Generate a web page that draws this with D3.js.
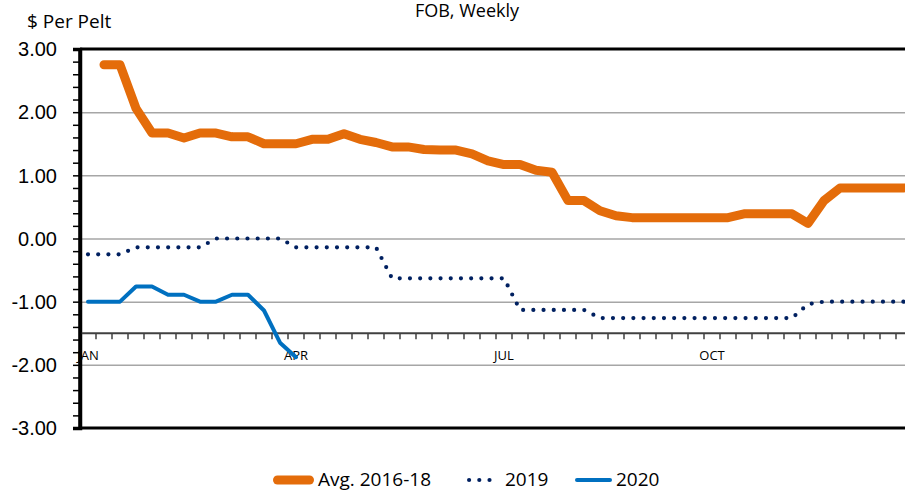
<!DOCTYPE html>
<html>
<head>
<meta charset="utf-8">
<script src="https://cdn.jsdelivr.net/npm/d3@7"></script>
<style>
  body { margin: 0; background: #fff; }
  svg { display: block; font-family: "Open Sans", Lato, sans-serif; }
</style>
</head>
<body>
<div id="linechart"></div>
<script>
// weekly categories (1..52)
const weeks = [
  1, 2, 3, 4, 5, 6, 7, 8, 9, 10, 11, 12, 13, 14, 15, 16, 17, 18, 19, 20, 21, 22, 23, 24, 25, 26,
  27, 28, 29, 30, 31, 32, 33, 34, 35, 36, 37, 38, 39, 40, 41, 42, 43, 44, 45, 46, 47, 48, 49, 50, 51, 52,
];
const monthWeeks = [1, 14, 27, 40];
const monthNames = ["JAN", "APR", "JUL", "OCT"];
const yTicks = [3, 2, 1, 0, -1, -2, -3];

const avg1618 = [
  null, 2.75, 2.75, 2.06, 1.67, 1.67, 1.59, 1.67, 1.67, 1.61, 1.61, 1.5, 1.5, 1.5, 1.57, 1.57,
  1.66, 1.57, 1.52, 1.45, 1.45, 1.41, 1.4, 1.4, 1.34, 1.23, 1.17, 1.17, 1.08, 1.05, 0.6, 0.6,
  0.44, 0.36, 0.33, 0.33, 0.33, 0.33, 0.33, 0.33, 0.33, 0.39, 0.39, 0.39, 0.39, 0.24, 0.6, 0.8,
  0.8, 0.8, 0.8, 0.8,
];
const y2019 = [
  -0.25, -0.25, -0.25, -0.14, -0.14, -0.14, -0.14, -0.14, 0, 0, 0, 0, 0, -0.14, -0.14, -0.14,
  -0.14, -0.14, -0.14, -0.63, -0.63, -0.63, -0.63, -0.63, -0.63, -0.63, -0.63, -1.13, -1.13, -1.13,
  -1.13, -1.13, -1.26, -1.26, -1.26, -1.26, -1.26, -1.26, -1.26, -1.26, -1.26, -1.26, -1.26, -1.26,
  -1.26, -1.04, -1.0, -1.0, -1.0, -1.0, -1.0, -1.0,
];
const y2020 = [-1.0, -1.0, -1.0, -0.76, -0.76, -0.89, -0.89, -1.0, -1.0, -0.89, -0.89, -1.14, -1.65, -1.88];

const seriesNames = ["Avg. 2016-18", "2019", "2020"];
const seriesColors = ["#E46C0A", "#002060", "#0070C0"];

class LineChart {
  constructor() {
    this.config = {
      parentElement: "#linechart",
      width: 905,
      height: 491,
      margin: { top: 49, left: 80 },
      plotWidth: 832,
      plotHeight: 379,
    };
    this.initVis();
  }

  initVis() {
    const vis = this;
    const c = vis.config;

    vis.root = d3
      .select(c.parentElement)
      .append("svg")
      .attr("width", c.width)
      .attr("height", c.height);

    vis.svg = vis.root
      .append("g")
      .attr("transform", `translate(${c.margin.left},${c.margin.top})`);

    vis.x = d3.scaleBand().domain(weeks).range([0, c.plotWidth]);
    vis.y = d3.scaleLinear().domain([-3, 3]).range([c.plotHeight, 0]);

    // title and unit label
    vis.root
      .append("text")
      .attr("x", 467)
      .attr("y", 17)
      .attr("text-anchor", "middle")
      .style("font-size", "18px")
      .text("FOB, Weekly");

    vis.root
      .append("text")
      .attr("x", 27)
      .attr("y", 28)
      .style("font-size", "19px")
      .text("$ Per Pelt");

    vis.updateVis();
  }

  updateVis() {
    const vis = this;
    const c = vis.config;

    // gridlines
    vis.svg
      .append("g")
      .attr("class", "grid")
      .call(d3.axisLeft(vis.y).tickValues(yTicks.filter((d) => d > -3 && d < 3)).tickSize(-c.plotWidth).tickFormat(""))
      .call((g) => g.select(".domain").remove())
      .call((g) => g.selectAll("line").attr("stroke", "#a6a6a6").attr("stroke-width", 1.5));

    // top and bottom border of the plot
    vis.svg
      .append("g")
      .selectAll("line")
      .data([3, -3])
      .join("line")
      .attr("x1", 0)
      .attr("x2", c.plotWidth)
      .attr("y1", (d) => vis.y(d))
      .attr("y2", (d) => vis.y(d))
      .attr("stroke", "#000")
      .attr("stroke-width", 3);

    // y axis with minor ticks
    const yAxis = vis.svg.append("g").attr("class", "y-axis");
    yAxis
      .call(d3.axisLeft(vis.y).ticks(30).tickSize(7).tickFormat(""))
      .call((g) => g.select(".domain").attr("stroke-width", 3.5))
      .call((g) => g.selectAll("line").attr("stroke", "#000").attr("stroke-width", 1.5));
    yAxis
      .append("g")
      .selectAll("text")
      .data(yTicks)
      .join("text")
      .attr("x", -23)
      .attr("y", (d) => vis.y(d))
      .attr("dy", "0.36em")
      .attr("text-anchor", "end")
      .attr("fill", "#000")
      .style("font-size", "20px")
      .text((d) => d.toFixed(2));

    // category axis crossing at -1.5
    const xAxisY = vis.y(-1.5);
    const xAxis = vis.svg.append("g").attr("class", "x-axis").attr("transform", `translate(0,${xAxisY})`);
    xAxis
      .append("line")
      .attr("x1", 0)
      .attr("x2", c.plotWidth)
      .attr("stroke", "#404040")
      .attr("stroke-width", 2);
    xAxis
      .selectAll(".wk-tick")
      .data(weeks.slice(1))
      .join("line")
      .attr("class", "wk-tick")
      .attr("x1", (d) => vis.x(d))
      .attr("x2", (d) => vis.x(d))
      .attr("y1", 0)
      .attr("y2", 6)
      .attr("stroke", "#404040")
      .attr("stroke-width", 1.5);
    xAxis
      .selectAll(".month")
      .data(monthWeeks)
      .join("text")
      .attr("class", "month")
      .attr("x", (d) => vis.x(d) + vis.x.bandwidth() / 2)
      .attr("y", 22)
      .attr("dy", "0.35em")
      .attr("text-anchor", "middle")
      .style("font-size", "13px")
      .text((d, i) => monthNames[i]);

    // redraw the left axis line on top of the month label
    vis.svg
      .append("line")
      .attr("x1", 0)
      .attr("x2", 0)
      .attr("y1", 0)
      .attr("y2", c.plotHeight)
      .attr("stroke", "#000")
      .attr("stroke-width", 3.5);

    const line = d3
      .line()
      .defined((d) => d.v !== null)
      .x((d) => vis.x(d.w) + vis.x.bandwidth() / 2)
      .y((d) => vis.y(d.v));

    const toPoints = (arr) => arr.map((v, i) => ({ w: weeks[i], v: v }));

    const series = [
      { name: seriesNames[0], pts: toPoints(avg1618), color: seriesColors[0], width: 9, dash: null },
      { name: seriesNames[1], pts: toPoints(y2019), color: seriesColors[1], width: 4.2, dash: "0,10.2" },
      { name: seriesNames[2], pts: toPoints(y2020), color: seriesColors[2], width: 4, dash: null },
    ];

    vis.svg
      .selectAll(".series")
      .data(series)
      .join("path")
      .attr("class", "series")
      .attr("d", (d) => line(d.pts))
      .attr("fill", "none")
      .attr("stroke", (d) => d.color)
      .attr("stroke-width", (d) => d.width)
      .attr("stroke-linejoin", "round")
      .attr("stroke-linecap", "round")
      .attr("stroke-dasharray", (d) => d.dash);

    // legend
    const legendX = [273, 467, 575];
    const legendLen = [41, 34, 37];
    const legend = vis.root
      .append("g")
      .selectAll("g")
      .data(series)
      .join("g")
      .attr("transform", (d, i) => `translate(${legendX[i]},480)`);
    legend
      .append("line")
      .attr("x1", (d) => d.width / 2)
      .attr("x2", (d, i) => legendLen[i] - d.width / 2)
      .attr("stroke", (d) => d.color)
      .attr("stroke-width", (d) => d.width)
      .attr("stroke-linecap", "round")
      .attr("stroke-dasharray", (d) => d.dash);
    legend
      .append("text")
      .attr("x", (d, i) => legendLen[i] + 4)
      .attr("y", 6)
      .style("font-size", "19px")
      .text((d) => d.name);
  }
}

new LineChart();
</script>
</body>
</html>
